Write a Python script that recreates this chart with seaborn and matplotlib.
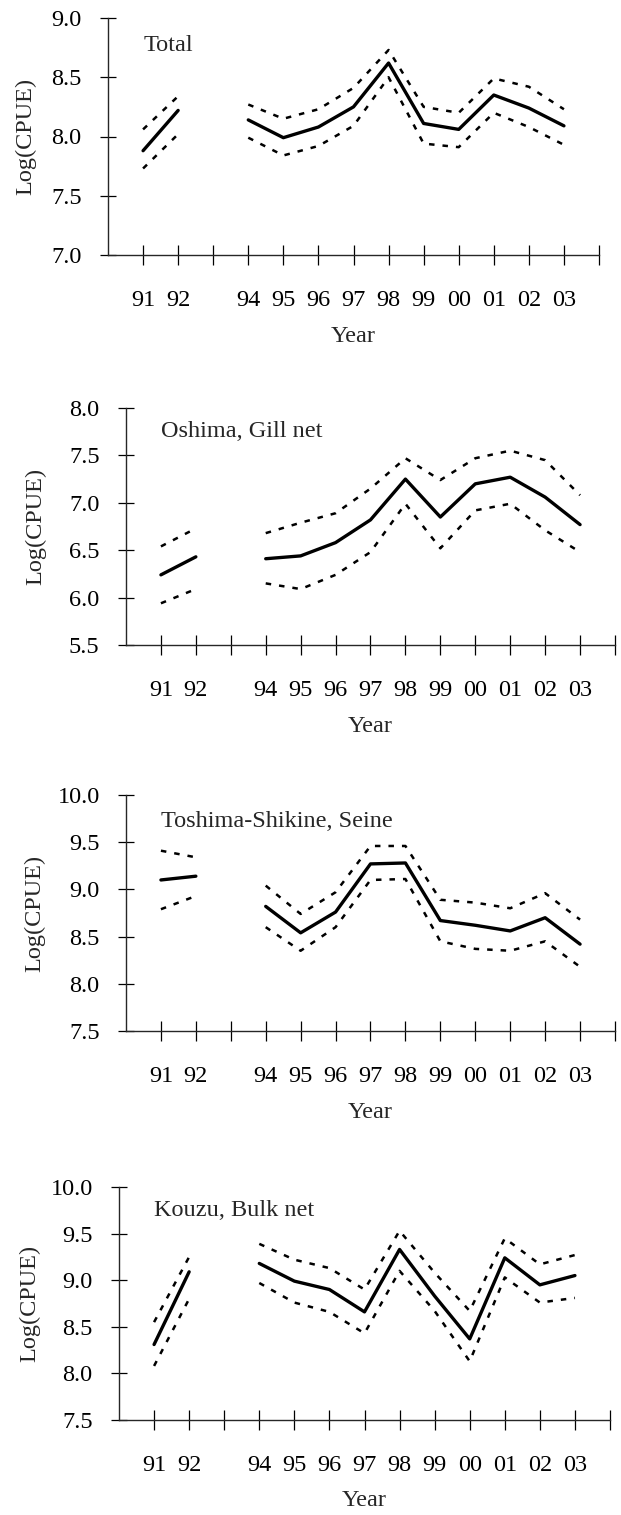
import numpy as np
import pandas as pd
import matplotlib
matplotlib.use("Agg")
import matplotlib.pyplot as plt
import matplotlib.transforms as mtransforms
import seaborn as sns

# ---------------- data ----------------
years = [1991, 1992, 1994, 1995, 1996, 1997, 1998, 1999, 2000, 2001, 2002, 2003]
segments = [1, 1, 2, 2, 2, 2, 2, 2, 2, 2, 2, 2]
tick_years = list(range(1991, 2005))
tick_labels = ["91", "92", "", "94", "95", "96", "97", "98", "99", "00", "01", "02", "03", ""]

panel_titles = ["Total", "Oshima, Gill net", "Toshima-Shikine, Seine", "Kouzu, Bulk net"]

total_mean = [7.88, 8.22, 8.14, 7.99, 8.08, 8.25, 8.62, 8.11, 8.06, 8.35, 8.24, 8.09]
total_upper = [8.06, 8.34, 8.27, 8.15, 8.23, 8.41, 8.73, 8.25, 8.20, 8.49, 8.42, 8.23]
total_lower = [7.73, 8.02, 7.99, 7.84, 7.92, 8.09, 8.50, 7.94, 7.91, 8.20, 8.08, 7.93]

oshima_mean = [6.24, 6.43, 6.41, 6.44, 6.58, 6.82, 7.25, 6.85, 7.20, 7.27, 7.06, 6.77]
oshima_upper = [6.54, 6.73, 6.68, 6.79, 6.89, 7.15, 7.47, 7.24, 7.47, 7.55, 7.45, 7.08]
oshima_lower = [5.94, 6.09, 6.15, 6.09, 6.24, 6.48, 6.99, 6.52, 6.92, 6.99, 6.71, 6.48]

toshima_mean = [9.10, 9.14, 8.82, 8.54, 8.76, 9.27, 9.28, 8.67, 8.62, 8.56, 8.70, 8.42]
toshima_upper = [9.41, 9.34, 9.04, 8.74, 8.97, 9.46, 9.46, 8.89, 8.86, 8.80, 8.96, 8.68]
toshima_lower = [8.79, 8.93, 8.60, 8.35, 8.60, 9.10, 9.11, 8.45, 8.37, 8.35, 8.45, 8.18]

kouzu_mean = [8.31, 9.09, 9.18, 8.99, 8.90, 8.66, 9.33, 8.83, 8.37, 9.24, 8.95, 9.05]
kouzu_upper = [8.55, 9.25, 9.39, 9.22, 9.13, 8.90, 9.53, 9.08, 8.67, 9.45, 9.17, 9.27]
kouzu_lower = [8.08, 8.80, 8.97, 8.76, 8.66, 8.43, 9.10, 8.67, 8.13, 9.03, 8.76, 8.81]

y_limits = [(7.0, 9.0), (5.5, 8.0), (7.5, 10.0), (7.5, 10.0)]

panels_data = [
    (total_mean, total_upper, total_lower),
    (oshima_mean, oshima_upper, oshima_lower),
    (toshima_mean, toshima_upper, toshima_lower),
    (kouzu_mean, kouzu_upper, kouzu_lower),
]

# ---------------- style ----------------
sns.set_style("ticks")
plt.rcParams["font.family"] = ["Liberation Serif", "DejaVu Serif"]
plt.rcParams["axes.linewidth"] = 1.0

W, H = 621, 1515
fig = plt.figure(figsize=(W / 100, H / 100), dpi=100)

# axes boxes in pixels: (left, right, top, bottom)
boxes = [(108, 599, 18, 255), (126, 615, 408, 645), (126, 615, 795, 1031), (119, 610, 1187, 1420)]
title_y = [0.886, 0.90, 0.887, 0.90]
ylabel_x = [-0.167, -0.184, -0.186, -0.181]

FS = 17.5
for i, (box, (m, u, l)) in enumerate(zip(boxes, panels_data)):
    left, right, top, bottom = box
    ax = fig.add_axes([left / W, 1 - bottom / H, (right - left) / W, (bottom - top) / H])
    x_pos = [y - 1900 for y in years]
    df = pd.DataFrame({
        "x": x_pos * 3,
        "value": list(m) + list(u) + list(l),
        "band": ["mean"] * len(m) + ["upper"] * len(u) + ["lower"] * len(l),
        "seg": segments * 3,
    })
    sns.lineplot(data=df[df.band == "mean"], x="x", y="value", units="seg",
                 estimator=None, color="black", linewidth=2.4, ax=ax, legend=False)
    for b in ["upper", "lower"]:
        sns.lineplot(data=df[df.band == b], x="x", y="value", units="seg",
                     estimator=None, color="black", linewidth=1.8,
                     linestyle=(0, (2.2, 3.2)), ax=ax, legend=False)

    ax.set_xlim(90, 104)
    ax.set_ylim(*y_limits[i])
    ax.set_xticks([t - 1900 for t in tick_years])
    ax.set_xticklabels(tick_labels)
    lo, hi = y_limits[i]
    yt = np.arange(lo, hi + 0.001, 0.5)
    ax.set_yticks(yt)
    ax.set_yticklabels([f"{v:.1f}" for v in yt])
    sns.despine(ax=ax)
    ax.spines["left"].set_linewidth(1.0)
    ax.spines["bottom"].set_linewidth(1.0)
    ax.tick_params(axis="x", direction="inout", length=14, width=0.9, pad=18,
                   labelsize=FS, colors="black")
    ax.tick_params(axis="y", direction="inout", length=12, width=0.9, pad=13,
                   labelsize=FS, colors="black")

    ax.set_xlabel("Year", fontsize=FS)
    ax.xaxis.set_label_coords(0.5, -0.345)
    ax.xaxis.label.set_verticalalignment("center")
    ax.set_ylabel("Log(CPUE)", fontsize=FS)
    ax.yaxis.set_label_coords(ylabel_x[i], 0.5)
    ax.yaxis.label.set_verticalalignment("center")

    trans = mtransforms.blended_transform_factory(ax.transData, ax.transAxes)
    ax.text(91.0, title_y[i], panel_titles[i], transform=trans, ha="left",
            va="center", fontsize=FS)

fig.savefig("out.png", dpi=100)
